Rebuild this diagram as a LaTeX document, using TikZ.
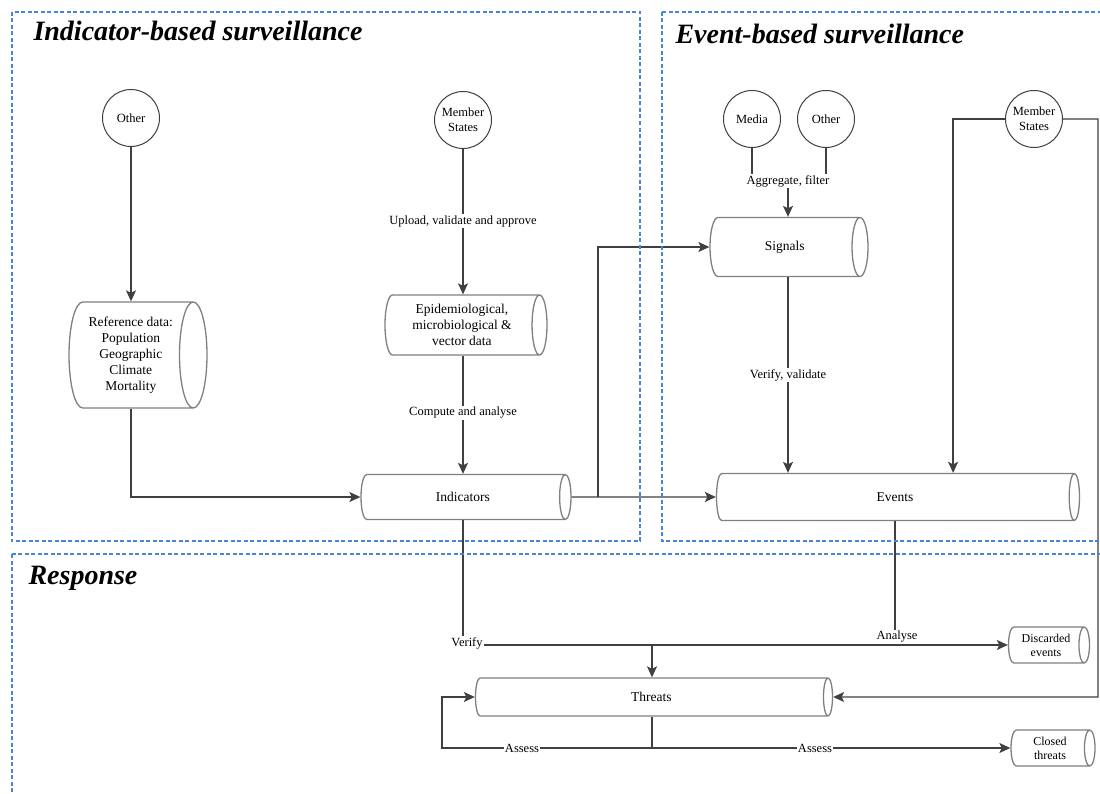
\documentclass[tikz,border=0pt]{standalone}
\usepackage{fontspec}
\setmainfont{Liberation Serif}
\usetikzlibrary{shapes.geometric,arrows.meta}

\definecolor{boxblue}{RGB}{70,132,224}
\definecolor{linegray}{RGB}{64,64,64}

\begin{document}
\begin{tikzpicture}
  [x=1pt,y=-1pt,
   every node/.style={font=\fontsize{12.5}{14}\selectfont},
   src/.style={circle,draw=linegray,line width=1pt,minimum size=57pt,inner sep=0pt,align=center,font=\fontsize{12.5}{15}\selectfont},
   db/.style={cylinder,anchor=shape center,draw=gray,line width=1.3pt,align=center,inner sep=0pt,font=\fontsize{13.5}{16}\selectfont},
   lbl/.style={fill=white,inner sep=1pt},
   area/.style={draw=boxblue,line width=2.5pt,dash pattern=on 4pt off 2.5pt},
   title/.style={font=\fontsize{28}{30}\selectfont\bfseries\itshape,anchor=base west},
   flow/.style={draw=linegray,line width=1.3pt},
   arr/.style={flow,-{Stealth[length=11pt,width=10pt,inset=2.5pt]}}]
  \useasboundingbox[fill=white] (0,0) rectangle (1100,794);

  % sources
  \node[src] (nother) at (131,118) {Other};
  \node[src] (nms) at (463,120) {Member\\States};
  \node[src] (nmedia) at (752,119) {Media};
  \node[src] (nother2) at (826,119) {Other};
  \node[src] (nms2) at (1034,119) {Member\\States};

  % data stores (minimum height = length of the drum)
  \node[db,minimum height=138pt,minimum width=106pt,aspect=0.36] (nref) at (138,355) {Reference data:\\Population\\Geographic\\Climate\\Mortality};
  \node[db,minimum height=162pt,minimum width=60pt,aspect=0.36] (nepi) at (466,325) {Epidemiological,\\microbiological \&\\vector data};
  \node[db,minimum height=210pt,minimum width=45pt,aspect=1.2] (nind) at (466,497) {Indicators};
  \node[db,minimum height=158pt,minimum width=59pt,aspect=1.3] (nsig) at (789,247) {Signals};
  \node[db,minimum height=363pt,minimum width=47pt,aspect=1.15] (nev) at (898,497) {Events};
  \node[db,minimum height=357pt,minimum width=38pt,aspect=0.95] (nthr) at (654,697) {Threats};
  \node[db,minimum height=81pt,minimum width=36pt,aspect=0.47,font=\fontsize{12}{14}\selectfont] (ndis) at (1049,645) {Discarded\\events};
  \node[db,minimum height=84pt,minimum width=36pt,aspect=0.47,font=\fontsize{12}{14}\selectfont] (nclo) at (1053,748) {Closed\\threats};

  \coordinate (nsplit) at (598,497);
  \coordinate (nagg) at (788,181);
  \coordinate (nmsr) at (1098,697);
  \coordinate (njoin) at (652,645);
  \coordinate (nass) at (652,748);

  % indicator-based
  \draw[arr] (nother) -- (nother |- nref.north);
  \draw[arr] (nother |- nref.south) |- (nind.west);
  \draw[arr] (nms) -- (nms |- nepi.north);
  \draw[arr] (nms |- nepi.south) -- (nms |- nind.north);
  \draw[arr] (nind.east) -- (nev.west);
  \draw[arr] (nsplit) |- (nsig.west);

  % event-based
  \draw[flow] (nmedia) -- (nmedia |- nagg);
  \draw[flow] (nother2) -- (nother2 |- nagg);
  \draw[arr] (nagg) -- (nagg |- nsig.north);
  \draw[arr] (nagg |- nsig.south) -- (nagg |- nev.north);
  \draw[arr] (nms2.west) -| ([xshift=58pt]nev.north);
  \draw[arr] (nms2.east) -| (nmsr) -- (nthr.east);

  % response
  \draw[flow] (nms |- nind.south) |- (njoin);
  \draw[flow] (nev.south) |- (njoin);
  \draw[arr] (njoin) -- (njoin |- nthr.north);
  \draw[arr] (nev.south |- njoin) -- (ndis.west);
  \draw[flow] (nass |- nthr.south) -- (nass);
  \draw[arr] (nass) -- (nclo.west);
  \draw[arr] (nass) -| ([xshift=-33pt]nthr.west) -- (nthr.west);

  % edge labels
  \node[lbl] (lupl) at (463,221) {Upload, validate and approve};
  \node[lbl] (lcom) at (463,413) {Compute and analyse};
  \node[lbl] (lagg) at (nagg) {Aggregate, filter};
  \node[lbl] (lver) at (788,375) {Verify, validate};
  \node[lbl] (lvfy) at (467,643) {Verify};
  \node[lbl] (lana) at (897,637) {Analyse};
  \node[lbl] (lass) at (522,748) {Assess};
  \node[lbl] (lass2) at (815,748) {Assess};

  % areas
  \draw[area] (12,12) rectangle (640,541);
  \draw[area] (662,12) rectangle (1110,541);
  \draw[area] (12,554) rectangle (1110,800);
  \node[title] (tind) at (30,41) {Indicator-based surveillance};
  \node[title] (tev) at (672,44) {Event-based surveillance};
  \node[title] (tres) at (25,584) {Response};
\end{tikzpicture}
\end{document}
